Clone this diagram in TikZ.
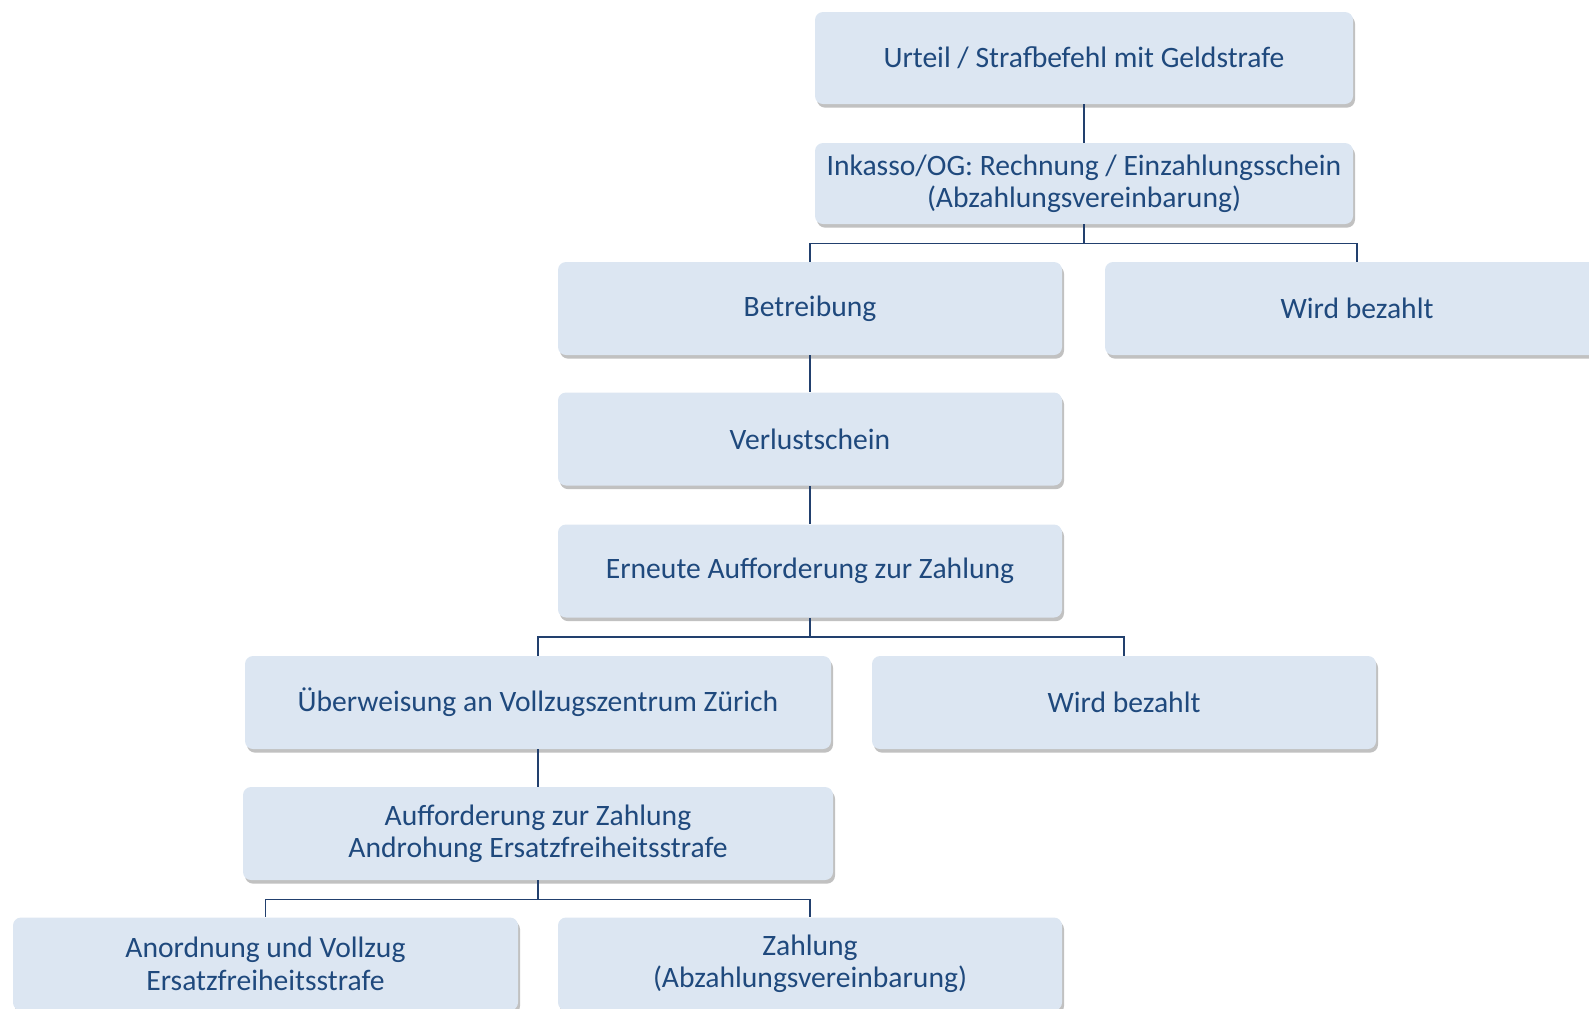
\documentclass[tikz,border=0pt]{standalone}
\usepackage{fontspec}
\setmainfont{Carlito}
\usetikzlibrary{shadows}
\definecolor{boxfill}{HTML}{DCE6F2}
\definecolor{boxtext}{HTML}{1F497D}
\definecolor{linecol}{HTML}{22406E}

\begin{document}
\begin{tikzpicture}[x=0.5pt,y=0.5pt,
		stage/.style={rectangle, rounded corners=4pt, fill=boxfill, text=boxtext, align=center,
			font=\fontsize{14.8}{16.2}\selectfont, inner sep=0pt,
			drop shadow={shadow xshift=1pt, shadow yshift=-1.8pt, opacity=0.35, fill=black!70}},
		conn/.style={draw=linecol, line width=0.8pt}]
		\useasboundingbox (0,0) rectangle (1589,-1008) ;
		\clip (0,0) rectangle (1589,-1008) ;

		\node[stage, minimum width=269pt, minimum height=46pt] (urteil) at (1084,-58) {Urteil / Strafbefehl mit Geldstrafe} ;
		\node[stage, minimum width=269pt, minimum height=40.5pt] (inkasso) at (1084,-183.5) {Inkasso/OG: Rechnung / Einzahlungsschein\\(Abzahlungsvereinbarung)} ;

		\node[stage, minimum width=252pt, minimum height=46.5pt] (betreibung) at (810,-308.5) {Betreibung} ;
		\node[stage, minimum width=252pt, minimum height=46.5pt] (bezahlt1) at (1357,-308.5) {Wird bezahlt} ;
		\node[stage, minimum width=252pt, minimum height=46.5pt] (verlust) at (810,-439) {Verlustschein} ;
		\node[stage, minimum width=252pt, minimum height=46.5pt] (erneut) at (810,-571) {Erneute Aufforderung zur Zahlung} ;

		\node[stage, minimum width=293pt, minimum height=46.5pt] (ueberweisung) at (538,-702.5) {Überweisung an Vollzugszentrum Zürich} ;
		\node[stage, minimum width=252pt, minimum height=46.5pt] (bezahlt2) at (1124,-702.5) {Wird bezahlt} ;
		\node[stage, minimum width=295pt, minimum height=46.5pt] (aufforderung) at (538,-833.5) {Aufforderung zur Zahlung\\Androhung Ersatzfreiheitsstrafe} ;

		\node[stage, minimum width=252.5pt, minimum height=46.5pt] (anordnung) at (265.5,-964) {Anordnung und Vollzug\\Ersatzfreiheitsstrafe} ;
		\node[stage, minimum width=252pt, minimum height=46.5pt] (zahlung) at (810,-964) {Zahlung\\(Abzahlungsvereinbarung)} ;

		\draw[conn] (urteil) -- (inkasso) ;
		\draw[conn] (inkasso.south) -- ++(0,-19) coordinate (g1) -| (betreibung.north) ;
		\draw[conn] (g1) -| (bezahlt1.north) ;
		\draw[conn] (betreibung) -- (verlust) ;
		\draw[conn] (verlust) -- (erneut) ;
		\draw[conn] (erneut.south) -- ++(0,-19) coordinate (g2) -| (ueberweisung.north) ;
		\draw[conn] (g2) -| (bezahlt2.north) ;
		\draw[conn] (ueberweisung) -- (aufforderung) ;
		\draw[conn] (aufforderung.south) -- ++(0,-19) coordinate (g3) -| (anordnung.north) ;
		\draw[conn] (g3) -| (zahlung.north) ;
	\end{tikzpicture}
\end{document}
